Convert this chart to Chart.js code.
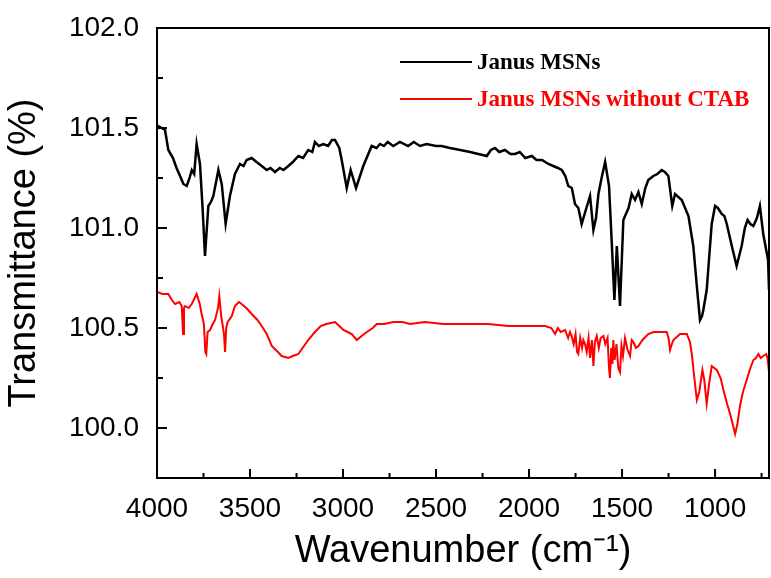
<!DOCTYPE html>
<html>
<head>
<meta charset="utf-8">
<title>FTIR spectra</title>
<script src="https://cdn.jsdelivr.net/npm/chart.js@4.4.0/dist/chart.umd.min.js"></script>
<style>
  body { margin: 0; background: #fff; }
  #wrap { width: 771px; height: 578px; }
</style>
</head>
<body>
<div id="wrap"><canvas id="Chart" width="771" height="578"></canvas></div>
<script>
// Janus MSNs (black)
const janusWn = [4000, 3995, 3975, 3957, 3939, 3914, 3895, 3876, 3858, 3840, 3825, 3813, 3800, 3787, 3769, 3755, 3742, 3724, 3710, 3697,
  3670, 3652, 3631, 3608, 3581, 3554, 3535, 3518, 3491, 3465, 3437, 3410, 3390, 3366, 3340, 3320, 3294, 3270, 3240, 3215, 3187, 3165, 3151,
  3130, 3106, 3080, 3060, 3043, 3020, 3007, 2980, 2959, 2930, 2891, 2846, 2820, 2801, 2780, 2760, 2730, 2694, 2650, 2620, 2586, 2550, 2500,
  2470, 2425, 2370, 2317, 2227, 2205, 2183, 2160, 2130, 2100, 2075, 2050, 2020, 1985, 1960, 1930, 1896, 1870, 1845, 1824, 1805, 1789,
  1770, 1753, 1735, 1717, 1695, 1672, 1654, 1640, 1627, 1610, 1591, 1570, 1555, 1541, 1528, 1511, 1493, 1484, 1465, 1448, 1430,
  1412, 1394, 1375, 1359, 1332, 1310, 1287, 1270, 1251, 1230, 1215, 1179, 1143, 1117, 1098, 1081, 1070, 1063, 1045, 1018, 1000,
  985, 964, 950, 937, 910, 884, 857, 840, 825, 810, 794, 775, 759, 741, 715, 710];
const janusT = [101.50, 101.51, 101.50, 101.49, 101.39, 101.35, 101.30, 101.26, 101.22, 101.21, 101.25, 101.29, 101.27, 101.42, 101.32, 101.10, 100.86, 101.11, 101.13, 101.16,
  101.29, 101.22, 101.02, 101.16, 101.27, 101.32, 101.31, 101.34, 101.35, 101.33, 101.31, 101.29, 101.30, 101.28, 101.30, 101.29, 101.31, 101.33, 101.36, 101.35, 101.39, 101.38, 101.43,
  101.41, 101.42, 101.41, 101.44, 101.44, 101.40, 101.34, 101.20, 101.29, 101.20, 101.31, 101.41, 101.40, 101.42, 101.41, 101.43, 101.41, 101.43, 101.41, 101.43, 101.41, 101.42, 101.41,
  101.41, 101.40, 101.39, 101.38, 101.36, 101.39, 101.40, 101.38, 101.39, 101.37, 101.37, 101.38, 101.35, 101.36, 101.34, 101.34, 101.32, 101.31, 101.30, 101.29, 101.26, 101.21,
  101.20, 101.12, 101.10, 101.02, 101.09, 101.16, 100.99, 101.05, 101.17, 101.25, 101.33, 101.21, 100.92, 100.64, 100.91, 100.61, 101.04, 101.06, 101.10, 101.17, 101.14,
  101.18, 101.12, 101.20, 101.24, 101.26, 101.27, 101.29, 101.28, 101.26, 101.11, 101.17, 101.14, 101.06, 100.91, 100.71, 100.54, 100.56, 100.59, 100.69, 101.02, 101.11,
  101.10, 101.07, 101.06, 101.02, 100.91, 100.81, 100.91, 101.00, 101.04, 101.02, 101.01, 101.05, 101.11, 100.97, 100.84, 100.69];

// Janus MSNs without CTAB (red)
const plainWn = [4000, 3970, 3939, 3920, 3903, 3880, 3867, 3860, 3855, 3849, 3830, 3813, 3787, 3770, 3760, 3748, 3740, 3735, 3728, 3715,
  3700, 3688, 3672, 3665, 3655, 3648, 3640, 3634, 3628, 3620, 3598, 3581, 3560, 3545, 3520, 3491, 3460, 3437, 3410, 3383, 3350, 3330,
  3294, 3270, 3240, 3210, 3187, 3151, 3120, 3090, 3043, 3020, 2998, 2975, 2953, 2926, 2900, 2872, 2840, 2819, 2780, 2729, 2680, 2640,
  2560, 2461, 2400, 2317, 2219, 2111, 1985, 1914, 1880, 1860, 1845, 1830, 1806, 1790, 1780, 1771, 1760, 1750, 1742, 1735, 1725, 1715,
  1708, 1699, 1690, 1680, 1672, 1662, 1654, 1646, 1636, 1625, 1615, 1600, 1590, 1578, 1570, 1565, 1558, 1552, 1547, 1540, 1530, 1520,
  1511, 1503, 1495, 1484, 1470, 1457, 1448, 1439, 1425, 1412, 1390, 1359, 1330, 1305, 1260, 1250, 1242, 1232, 1224, 1188, 1152, 1135,
  1125, 1110, 1098, 1085, 1068, 1058, 1045, 1032, 1018, 991, 970, 955, 935, 919, 900, 892, 880, 866, 850, 830, 810, 794, 780, 767,
  755, 741, 725, 718, 710];
const plainT = [100.68, 100.67, 100.67, 100.64, 100.62, 100.63, 100.61, 100.47, 100.60, 100.61, 100.60, 100.62, 100.67, 100.62, 100.57, 100.52, 100.38, 100.37, 100.48, 100.49,
  100.52, 100.54, 100.60, 100.66, 100.56, 100.52, 100.47, 100.38, 100.50, 100.53, 100.56, 100.61, 100.63, 100.62, 100.60, 100.57, 100.54, 100.51, 100.47, 100.41, 100.38, 100.36,
  100.35, 100.36, 100.37, 100.41, 100.44, 100.48, 100.51, 100.52, 100.53, 100.51, 100.49, 100.48, 100.47, 100.44, 100.46, 100.48, 100.50, 100.52, 100.52, 100.53, 100.53, 100.52,
  100.53, 100.52, 100.52, 100.52, 100.52, 100.51, 100.51, 100.51, 100.50, 100.47, 100.50, 100.48, 100.49, 100.45, 100.48, 100.46, 100.42, 100.47, 100.38, 100.37, 100.45, 100.40,
  100.44, 100.42, 100.38, 100.45, 100.35, 100.44, 100.31, 100.43, 100.46, 100.40, 100.45, 100.46, 100.42, 100.45, 100.30, 100.25, 100.40, 100.32, 100.44, 100.34, 100.42, 100.30,
  100.28, 100.41, 100.36, 100.45, 100.39, 100.36, 100.44, 100.43, 100.40, 100.41, 100.44, 100.47, 100.48, 100.48, 100.48, 100.45, 100.39, 100.42, 100.44, 100.47, 100.47, 100.43,
  100.37, 100.24, 100.14, 100.18, 100.29, 100.24, 100.12, 100.22, 100.31, 100.29, 100.25, 100.19, 100.12, 100.07, 100.00, 99.97, 100.02, 100.11, 100.18, 100.24, 100.30, 100.34, 100.35, 100.37,
  100.35, 100.36, 100.37, 100.35, 100.28];

const seriesNames = ['Janus MSNs', 'Janus MSNs without CTAB'];
const seriesColors = ['#000000', '#ff0000'];

const xTicks = [4000, 3500, 3000, 2500, 2000, 1500, 1000];
const xMinor = [3750, 3250, 2750, 2250, 1750, 1250, 750];
const yTicks = [100.0, 100.5, 101.0, 101.5, 102.0];
const yMinor = [100.25, 100.75, 101.25, 101.75];

function toPoints(xs, ys) {
  return xs.map(function (x, i) { return { x: x, y: ys[i] }; });
}

// frame, inward ticks, legend
const framePlugin = {
  id: 'frame',
  afterDraw: function (chart) {
    const ctx = chart.ctx;
    const a = chart.chartArea;
    const xs = chart.scales.x;
    const ys = chart.scales.y;
    ctx.save();
    ctx.strokeStyle = '#000';
    ctx.lineWidth = 2;
    ctx.strokeRect(a.left, a.top, a.right - a.left, a.bottom - a.top);
    ctx.beginPath();
    xTicks.forEach(function (v) {
      const p = xs.getPixelForValue(v);
      ctx.moveTo(p, a.bottom); ctx.lineTo(p, a.bottom - 9);
    });
    xMinor.forEach(function (v) {
      const p = xs.getPixelForValue(v);
      ctx.moveTo(p, a.bottom); ctx.lineTo(p, a.bottom - 5);
    });
    yTicks.forEach(function (v) {
      const p = ys.getPixelForValue(v);
      ctx.moveTo(a.left, p); ctx.lineTo(a.left + 10, p);
    });
    yMinor.forEach(function (v) {
      const p = ys.getPixelForValue(v);
      ctx.moveTo(a.left, p); ctx.lineTo(a.left + 6, p);
    });
    ctx.stroke();

    // legend
    ctx.font = 'bold 23px "Liberation Serif", "Times New Roman", serif';
    ctx.textBaseline = 'alphabetic';
    chart.data.datasets.forEach(function (ds, i) {
      const y = 62 + i * 37;
      ctx.strokeStyle = ds.borderColor;
      ctx.lineWidth = 2;
      ctx.beginPath();
      ctx.moveTo(400, y); ctx.lineTo(472, y);
      ctx.stroke();
      ctx.fillStyle = ds.borderColor;
      ctx.fillText(ds.label, 477, y + 7);
    });
    ctx.restore();
  }
};

const ctx = document.getElementById('Chart').getContext('2d');
new Chart(ctx, {
  type: 'line',
  data: {
    datasets: [{
      label: seriesNames[0],
      data: toPoints(janusWn, janusT),
      borderColor: seriesColors[0],
      borderWidth: 2.5,
      pointRadius: 0,
      fill: false
    }, {
      label: seriesNames[1],
      data: toPoints(plainWn, plainT),
      borderColor: seriesColors[1],
      borderWidth: 2,
      pointRadius: 0,
      fill: false
    }]
  },
  options: {
    responsive: false,
    animation: false,
    layout: { padding: { top: 28, right: 2, left: 0, bottom: 0 } },
    plugins: { legend: { display: false }, tooltip: { enabled: false } },
    scales: {
      x: {
        type: 'linear',
        reverse: true,
        min: 710,
        max: 4000,
        grid: { display: false },
        border: { display: false },
        afterBuildTicks: function (s) { s.ticks = xTicks.map(function (v) { return { value: v }; }); },
        afterFit: function (s) { s.height = 100; },
        ticks: {
          color: '#000',
          padding: 6,
          maxRotation: 0,
          font: { family: '"Liberation Sans", Arial, sans-serif', size: 28 },
          callback: function (v) { return String(v); }
        },
        title: {
          display: true,
          text: 'Wavenumber (cm\u207B\u00B9)',
          color: '#000',
          font: { family: '"Liberation Sans", Arial, sans-serif', size: 38 },
          padding: { top: 2 }
        }
      },
      y: {
        min: 99.75,
        max: 102.0,
        grid: { display: false },
        border: { display: false },
        afterBuildTicks: function (s) { s.ticks = yTicks.map(function (v) { return { value: v }; }); },
        afterFit: function (s) { s.width = 157; },
        ticks: {
          color: '#000',
          padding: 10,
          font: { family: '"Liberation Sans", Arial, sans-serif', size: 28 },
          callback: function (v) { return Number(v).toFixed(1); }
        },
        title: {
          display: true,
          text: 'Transmittance (%)',
          color: '#000',
          font: { family: '"Liberation Sans", Arial, sans-serif', size: 38 },
          padding: { top: 2, bottom: 0 }
        }
      }
    }
  },
  plugins: [framePlugin]
});
</script>
</body>
</html>
